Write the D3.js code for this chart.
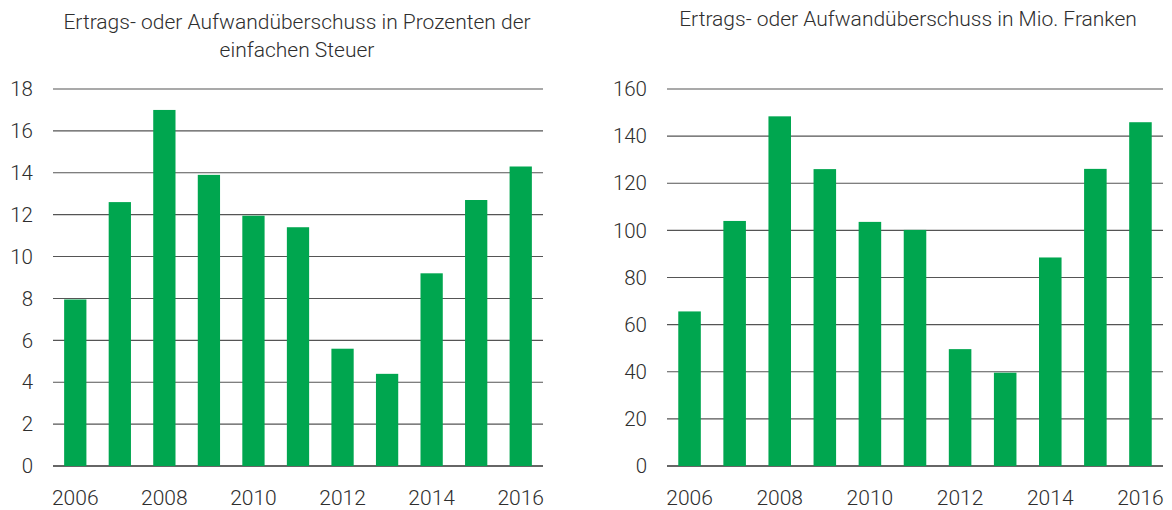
<!DOCTYPE html>
<html>
<head>
<meta charset="utf-8">
<script src="https://cdnjs.cloudflare.com/ajax/libs/d3/7.8.5/d3.min.js"></script>
<style>
  body { margin: 0; background: #fff; }
  svg text { font-family: "Roboto", "Liberation Sans", sans-serif; font-weight: 300; fill: #2e2e2e; }
</style>
</head>
<body>
<div id="chart"></div>
<script>
// data
const years = ["2006","2007","2008","2009","2010","2011","2012","2013","2014","2015","2016"];
const prozent = [7.95, 12.6, 17.0, 13.9, 11.95, 11.4, 5.6, 4.4, 9.2, 12.7, 14.3];
const mioFranken = [65.6, 104.0, 148.4, 126.0, 103.6, 100.2, 49.6, 39.6, 88.5, 126.1, 145.9];
const yearTicks = ["2006","2008","2010","2012","2014","2016"];
const prozentTicks = [0, 2, 4, 6, 8, 10, 12, 14, 16, 18];
const frankenTicks = [0, 20, 40, 60, 80, 100, 120, 140, 160];
const titleLeft = ["Ertrags- oder Aufwandüberschuss in Prozenten der", "einfachen Steuer"];
const titleRight = ["Ertrags- oder Aufwandüberschuss in Mio. Franken"];

const svg = d3.select("#chart").append("svg")
    .attr("width", 1172)
    .attr("height", 510);

function drawChart(opts) {
    //band scale for years, bars take half of each step
    const x = d3.scaleBand()
        .domain(years)
        .range([opts.left, opts.right])
        .paddingInner(0.5)
        .paddingOuter(0.25);

    const y = d3.scaleLinear()
        .domain([0, d3.max(opts.ticks)])
        .range([466, 89]);

    const g = svg.append("g");

    //title lines
    g.selectAll(".title")
        .data(opts.title)
        .join("text")
        .attr("class", "title")
        .attr("x", opts.titleX)
        .attr("y", (d, i) => opts.titleY + i * 28)
        .attr("text-anchor", "middle")
        .style("font-size", "21px")
        .text(d => d);

    //gridlines
    g.selectAll(".grid")
        .data(opts.ticks)
        .join("line")
        .attr("class", "grid")
        .attr("x1", opts.left)
        .attr("x2", opts.right)
        .attr("y1", d => y(d))
        .attr("y2", d => y(d))
        .style("stroke", d => d === 0 ? "#333" : "#555")
        .style("stroke-width", d => d === 0 ? 1.6 : 1.1);

    //y tick labels
    g.selectAll(".ylab")
        .data(opts.ticks)
        .join("text")
        .attr("class", "ylab")
        .attr("x", opts.labelX)
        .attr("y", d => y(d))
        .attr("dy", "0.35em")
        .attr("text-anchor", "end")
        .style("font-size", "20.5px")
        .text(d => d);

    //bars
    g.selectAll(".bar")
        .data(opts.values)
        .join("rect")
        .attr("class", "bar")
        .attr("x", (d, i) => x(years[i]))
        .attr("width", x.bandwidth())
        .attr("y", d => y(d))
        .attr("height", d => y(0) - y(d))
        .style("fill", "#00a64f");

    //x labels
    g.selectAll(".xlab")
        .data(yearTicks)
        .join("text")
        .attr("class", "xlab")
        .attr("x", d => x(d) + x.bandwidth() / 2)
        .attr("y", 505)
        .attr("text-anchor", "middle")
        .style("font-size", "21px")
        .text(d => d);
}

drawChart({ left: 53, right: 543, labelX: 33, titleX: 297, titleY: 29, ticks: prozentTicks, values: prozent, title: titleLeft });
drawChart({ left: 667, right: 1163, labelX: 647, titleX: 908, titleY: 26, ticks: frankenTicks, values: mioFranken, title: titleRight });
</script>
</body>
</html>
